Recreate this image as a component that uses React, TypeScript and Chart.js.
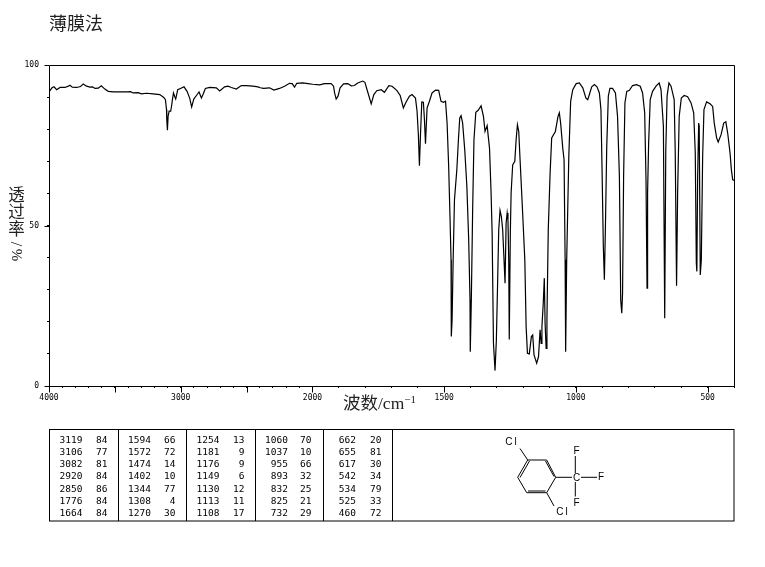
import React, { useEffect, useRef } from "react";
import { Chart, registerables, LinearScale } from "chart.js";

const wavenumbers = [4000,3997,3977,3962,3942,3916,3879,3853,3841,3823,3790,3760,3740,3715,3689,3669,3651,3626,3603,3576,3550,3512,3437,3406,3381,3361,3323,3298,3260,3210,3159,3129,3116,3108,3106,3101,3096,3088,3076,3068,3063,3055,3045,3038,3023,3002,2975,2952,2932,2917,2901,2881,2861,2843,2831,2813,2780,2730,2704,2667,2641,2616,2578,2540,2503,2452,2414,2396,2371,2326,2293,2250,2212,2174,2154,2136,2119,2073,2035,1999,1973,1954,1929,1920,1916,1910,1903,1895,1882,1866,1853,1841,1828,1809,1801,1790,1777,1767,1756,1739,1727,1710,1698,1680,1667,
1655,1645,1632,1622,1609,1603,1598,1594,1590,1585,1579,1575,1571,1565,1556,1546,1533,1521,1512,1503,1495,1489,1483,1478,1474,1473,1470,1466,1461,1452,1446,1441,1436,1430,1422,1414,1407,1402,1401,1397,1392,1387,1380,1371,1360,1351,1345,1337,1328,1322,1318,1313,1307,1302,1297,1293,1288,1283,1278,1274,1269,1265,1261,1258,1255,1253,1249,1246,1240,1232,1227,1222,1217,1212,1204,1194,1189,1184,1177,1169,1164,1159,1149,1142,1136,1132,1129,1124,1120,1117,1113,1110,1105,1098,1092,1078,1068,1063,1058,1050,1045,1041,1039,1035,1027,1020,1012,999,987,974,962,955,
949,940,930,920,911,905,901,896,892,888,883,877,871,861,850,842,835,830,826,823,819,814,807,797,785,770,756,747,739,734,730,728,724,718,709,696,684,677,668,663,659,654,647,639,627,623,618,614,608,600,589,576,563,553,547,543,541,538,534,532,528,524,519,514,504,491,481,475,466,460,449,439,431,424,415,410,405,400];
const transmittance = [91.6,91.8,92.9,93.2,92.3,93.0,93.0,93.4,93.7,93.1,93.0,93.3,94.1,93.4,93.1,93.2,92.7,92.8,93.5,92.5,91.8,91.6,91.6,91.6,91.7,91.3,91.4,91.0,91.2,91.0,90.8,89.9,89.2,86.1,83.0,79.7,84.0,85.6,85.6,87.7,89.2,91.3,90.1,89.4,92.3,92.7,93.2,91.8,89.7,86.9,89.4,90.5,91.6,89.7,90.8,92.7,93.0,92.9,91.9,93.2,93.4,93.0,92.5,93.6,93.6,93.4,93.2,92.9,92.7,92.9,92.2,92.7,93.4,94.3,94.2,93.1,94.3,94.4,94.2,94.0,93.8,94.2,94.2,93.4,91.3,89.4,90.3,92.9,94.1,94.2,93.5,93.6,94.4,95.0,94.6,91.5,87.9,90.8,92.0,92.3,91.5,93.6,93.4,92.1,90.5,
86.6,88.4,90.3,90.8,89.7,85.6,78.3,68.6,78.3,88.5,88.4,83.0,75.5,86.6,88.7,91.3,92.2,92.1,88.7,88.4,88.7,81.9,68.4,52.8,39.3,15.4,20.6,39.3,58.0,67.4,76.7,83.5,84.2,81.9,73.6,62.2,45.5,26.8,10.7,26.8,54.9,76.7,85.3,85.9,87.3,84.0,79.3,81.1,74.1,60.1,47.6,13.3,4.8,14.3,33.1,48.7,54.7,52.8,48.7,41.4,32.0,50.7,53.9,51.8,39.3,14.5,47.6,60.1,68.9,70.0,76.7,81.4,79.3,70.5,57.0,39.3,18.5,10.2,10.0,15.4,15.9,9.7,7.1,9.1,17.5,13.3,18.5,25.8,33.6,19.5,11.7,20.6,48.7,66.3,77.3,79.3,84.0,85.1,81.9,74.1,70.5,39.3,10.7,39.3,71.5,88.7,92.3,94.2,94.4,92.9,89.7,89.2,
90.8,93.2,93.9,93.2,91.3,86.1,68.4,43.5,33.1,49.7,74.7,90.3,92.7,92.7,91.3,84.0,65.3,26.8,22.7,28.9,65.3,88.2,91.8,92.1,93.6,93.9,93.4,91.3,85.1,64.3,30.5,60.1,75.7,89.2,91.8,93.4,94.4,92.3,80.9,21.1,73.1,90.3,94.4,93.4,89.2,72.6,31.2,60.1,84.0,89.7,90.5,90.1,88.2,85.1,72.6,38.3,35.7,65.3,81.9,80.9,34.6,39.3,71.5,86.1,88.5,87.9,87.1,81.9,77.3,76.0,78.3,81.9,82.3,78.8,72.6,67.4,64.3,64.0];

const xTickValues = [4000,3900,3800,3700,3600,3500,3400,3300,3200,3100,3000,2900,2800,2700,2600,2500,2400,2300,2200,2100,2000,1900,1800,1700,1600,1500,1400,1300,1200,1100,1000,900,800,700,600,500,400];
const xLabelled = [4000,3000,2000,1500,1000,500];
const xLongTicks = [4000,3500,3000,2500,2000,1500,1000,500];
const yLabelled = [0,50,100];

const peakColumns = [
  [["3119","84"],["3106","77"],["3082","81"],["2920","84"],["2850","86"],["1776","84"],["1664","84"]],
  [["1594","66"],["1572","72"],["1474","14"],["1402","10"],["1344","77"],["1308","4"],["1270","30"]],
  [["1254","13"],["1181","9"],["1176","9"],["1149","6"],["1130","12"],["1113","11"],["1108","17"]],
  [["1060","70"],["1037","10"],["955","66"],["893","32"],["832","25"],["825","21"],["732","29"]],
  [["662","20"],["655","81"],["617","30"],["542","34"],["534","79"],["525","33"],["460","72"]],
];
const tableDividers = [118.5,186.5,255.5,323.5,392.5];
const waveRight = [82.5,151,219.5,288,356];
const valueRight = [107.5,175.5,244.5,311.5,381.5];
const rowY = [439,451.3,463.6,475.8,488,500.3,512.6];

const CJK = '"Liberation Serif","Noto Sans CJK SC",serif';
const MONO = '"DejaVu Sans Mono",monospace';

// Grating-change wavenumber axis: 2000 cm-1 splits the axis, the upper range at half scale.
class WavenumberScale extends LinearScale {
  static id = "wavenumber";
  static defaults = LinearScale.defaults;
  getPixelForValue(v: number) {
    const d = v >= 2000 ? (4000 - v) / 2 : 1000 + (2000 - v);
    return this.getPixelForDecimal(d / 2600);
  }
}

const framePlugin = {
  id: "frame",
  afterDraw(chart: any) {
    const { ctx, chartArea: a, scales } = chart;
    ctx.save();
    ctx.strokeStyle = "#000";
    ctx.lineWidth = 1;
    ctx.beginPath();
    const l = Math.round(a.left) + 0.5, r = Math.round(a.right) + 0.5;
    const t = Math.round(a.top) + 0.5, b = Math.round(a.bottom) + 0.5;
    ctx.rect(l, t, r - l, b - t);
    for (const v of xLongTicks) {
      const x = Math.round(scales.x.getPixelForValue(v)) + 0.5;
      ctx.moveTo(x, b);
      ctx.lineTo(x, b + 6);
    }
    for (const v of yLabelled) {
      const y = Math.round(scales.y.getPixelForValue(v)) + 0.5;
      ctx.moveTo(l, y);
      ctx.lineTo(l - 5, y);
    }
    ctx.stroke();
    ctx.restore();
  },
};

Chart.register(...registerables, WavenumberScale);

export default function App() {
  const ref = useRef<HTMLCanvasElement>(null);
  useEffect(() => {
    const chart = new Chart(ref.current!, {
      type: "line",
      data: {
        datasets: [{
          label: "透过率",
          data: wavenumbers.map((x, i) => ({ x, y: transmittance[i] })),
          borderColor: "#000",
          borderWidth: 1.2,
          pointRadius: 0,
          tension: 0,
          fill: false,
        }],
      },
      plugins: [framePlugin],
      options: {
        responsive: false,
        animation: false,
        devicePixelRatio: 1,
        layout: { padding: { left: 0, right: 31, top: 0, bottom: 161 } },
        plugins: {
          legend: { display: false },
          tooltip: { enabled: false },
          title: {
            display: true,
            fullSize: false,
            text: "薄膜法",
            align: "start",
            color: "#222",
            font: { family: CJK, size: 18, weight: "normal", lineHeight: 1.2 },
            padding: { top: 14, bottom: 29.4 },
          },
        },
        scales: {
          x: {
            type: "wavenumber" as any,
            min: 400,
            max: 4000,
            afterBuildTicks: (s: any) => { s.ticks = xTickValues.map((value) => ({ value })); },
            afterFit: (s: any) => { s.height = 20; },
            grid: { drawOnChartArea: false, tickLength: 2, color: "#000", tickColor: "#000" },
            border: { display: false },
            ticks: {
              autoSkip: false,
              maxRotation: 0,
              padding: 5,
              color: "#000",
              font: { family: MONO, size: 8 },
              callback: (v: any) => (xLabelled.includes(Number(v)) ? String(v) : ""),
            },
          },
          y: {
            min: 0,
            max: 100,
            afterFit: (s: any) => { s.width = 49; },
            grid: { drawOnChartArea: false, tickLength: 2, tickColor: "#000" },
            border: { display: false },
            ticks: {
              stepSize: 10,
              autoSkip: false,
              padding: 8,
              color: "#000",
              font: { family: MONO, size: 8 },
              callback: (v: any) => (yLabelled.includes(Number(v)) ? String(v) : ""),
            },
          },
        },
      } as any,
    });
    return () => chart.destroy();
  }, []);

  const textCommon = { fontFamily: MONO, fontSize: 9.5, fill: "#000", textAnchor: "end" as const, dominantBaseline: "central" as const };
  const atom = { fontFamily: '"Liberation Sans",sans-serif', fontSize: 10, fill: "#000", textAnchor: "middle" as const, dominantBaseline: "central" as const };
  const cjkText = { fontFamily: CJK, fill: "#222" };

  return (
    <div style={{ position: "absolute", left: 0, top: 0, width: 765, height: 567, background: "#fff" }}>
      <canvas ref={ref} width={765} height={567} style={{ position: "absolute", left: 0, top: 0 }} />
      <svg width={765} height={567} style={{ position: "absolute", left: 0, top: 0 }}>
        {["透", "过", "率"].map((c, i) => (
          <text key={c} x={16.5} y={195.5 + i * 17} {...cjkText} fontSize={16.5} textAnchor="middle" dominantBaseline="central">{c}</text>
        ))}
        <text transform="translate(16.5 244) rotate(-90)" {...cjkText} fontSize={16} textAnchor="middle" dominantBaseline="central">/</text>
        <text transform="translate(16.5 255) rotate(-90)" {...cjkText} fontSize={15} textAnchor="middle" dominantBaseline="central">%</text>

        <text x={343} y={409} {...cjkText} fontSize={17.5}>波数/cm<tspan dy={-6} fontSize={11}>−1</tspan></text>

        <rect x={49.5} y={429.5} width={684.5} height={91.5} fill="none" stroke="#000" />
        {tableDividers.map((x) => <line key={x} x1={x} x2={x} y1={430} y2={521} stroke="#000" />)}
        {peakColumns.map((col, c) => col.map((row, r) => (
          <g key={`${c}-${r}`}>
            <text x={waveRight[c]} y={rowY[r]} {...textCommon}>{row[0]}</text>
            <text x={valueRight[c]} y={rowY[r]} {...textCommon}>{row[1]}</text>
          </g>
        )))}

        <g stroke="#000" strokeWidth={1} fill="none">
          <path d="M527.7 460H546.7L555.7 477.3L546.7 492.7H526.7L517.7 477.3Z" />
          <path d="M529.5 461L520 477.5M545.5 461L554 476.5M528 491H545.5" />
          <path d="M527.7 460L520 448.5M546.7 492.7L554 506M555.7 477.3H572M581 477.3H597M575.3 456V473M575.3 482V496.5" />
        </g>
        <text x={512} y={441.5} {...atom} letterSpacing={2}>Cl</text>
        <text x={563} y={511.7} {...atom} letterSpacing={2}>Cl</text>
        <text x={576.5} y={450} {...atom}>F</text>
        <text x={601} y={476.7} {...atom}>F</text>
        <text x={576.5} y={502.5} {...atom}>F</text>
        <text x={576.5} y={477.3} {...atom}>C</text>
      </svg>
    </div>
  );
}
